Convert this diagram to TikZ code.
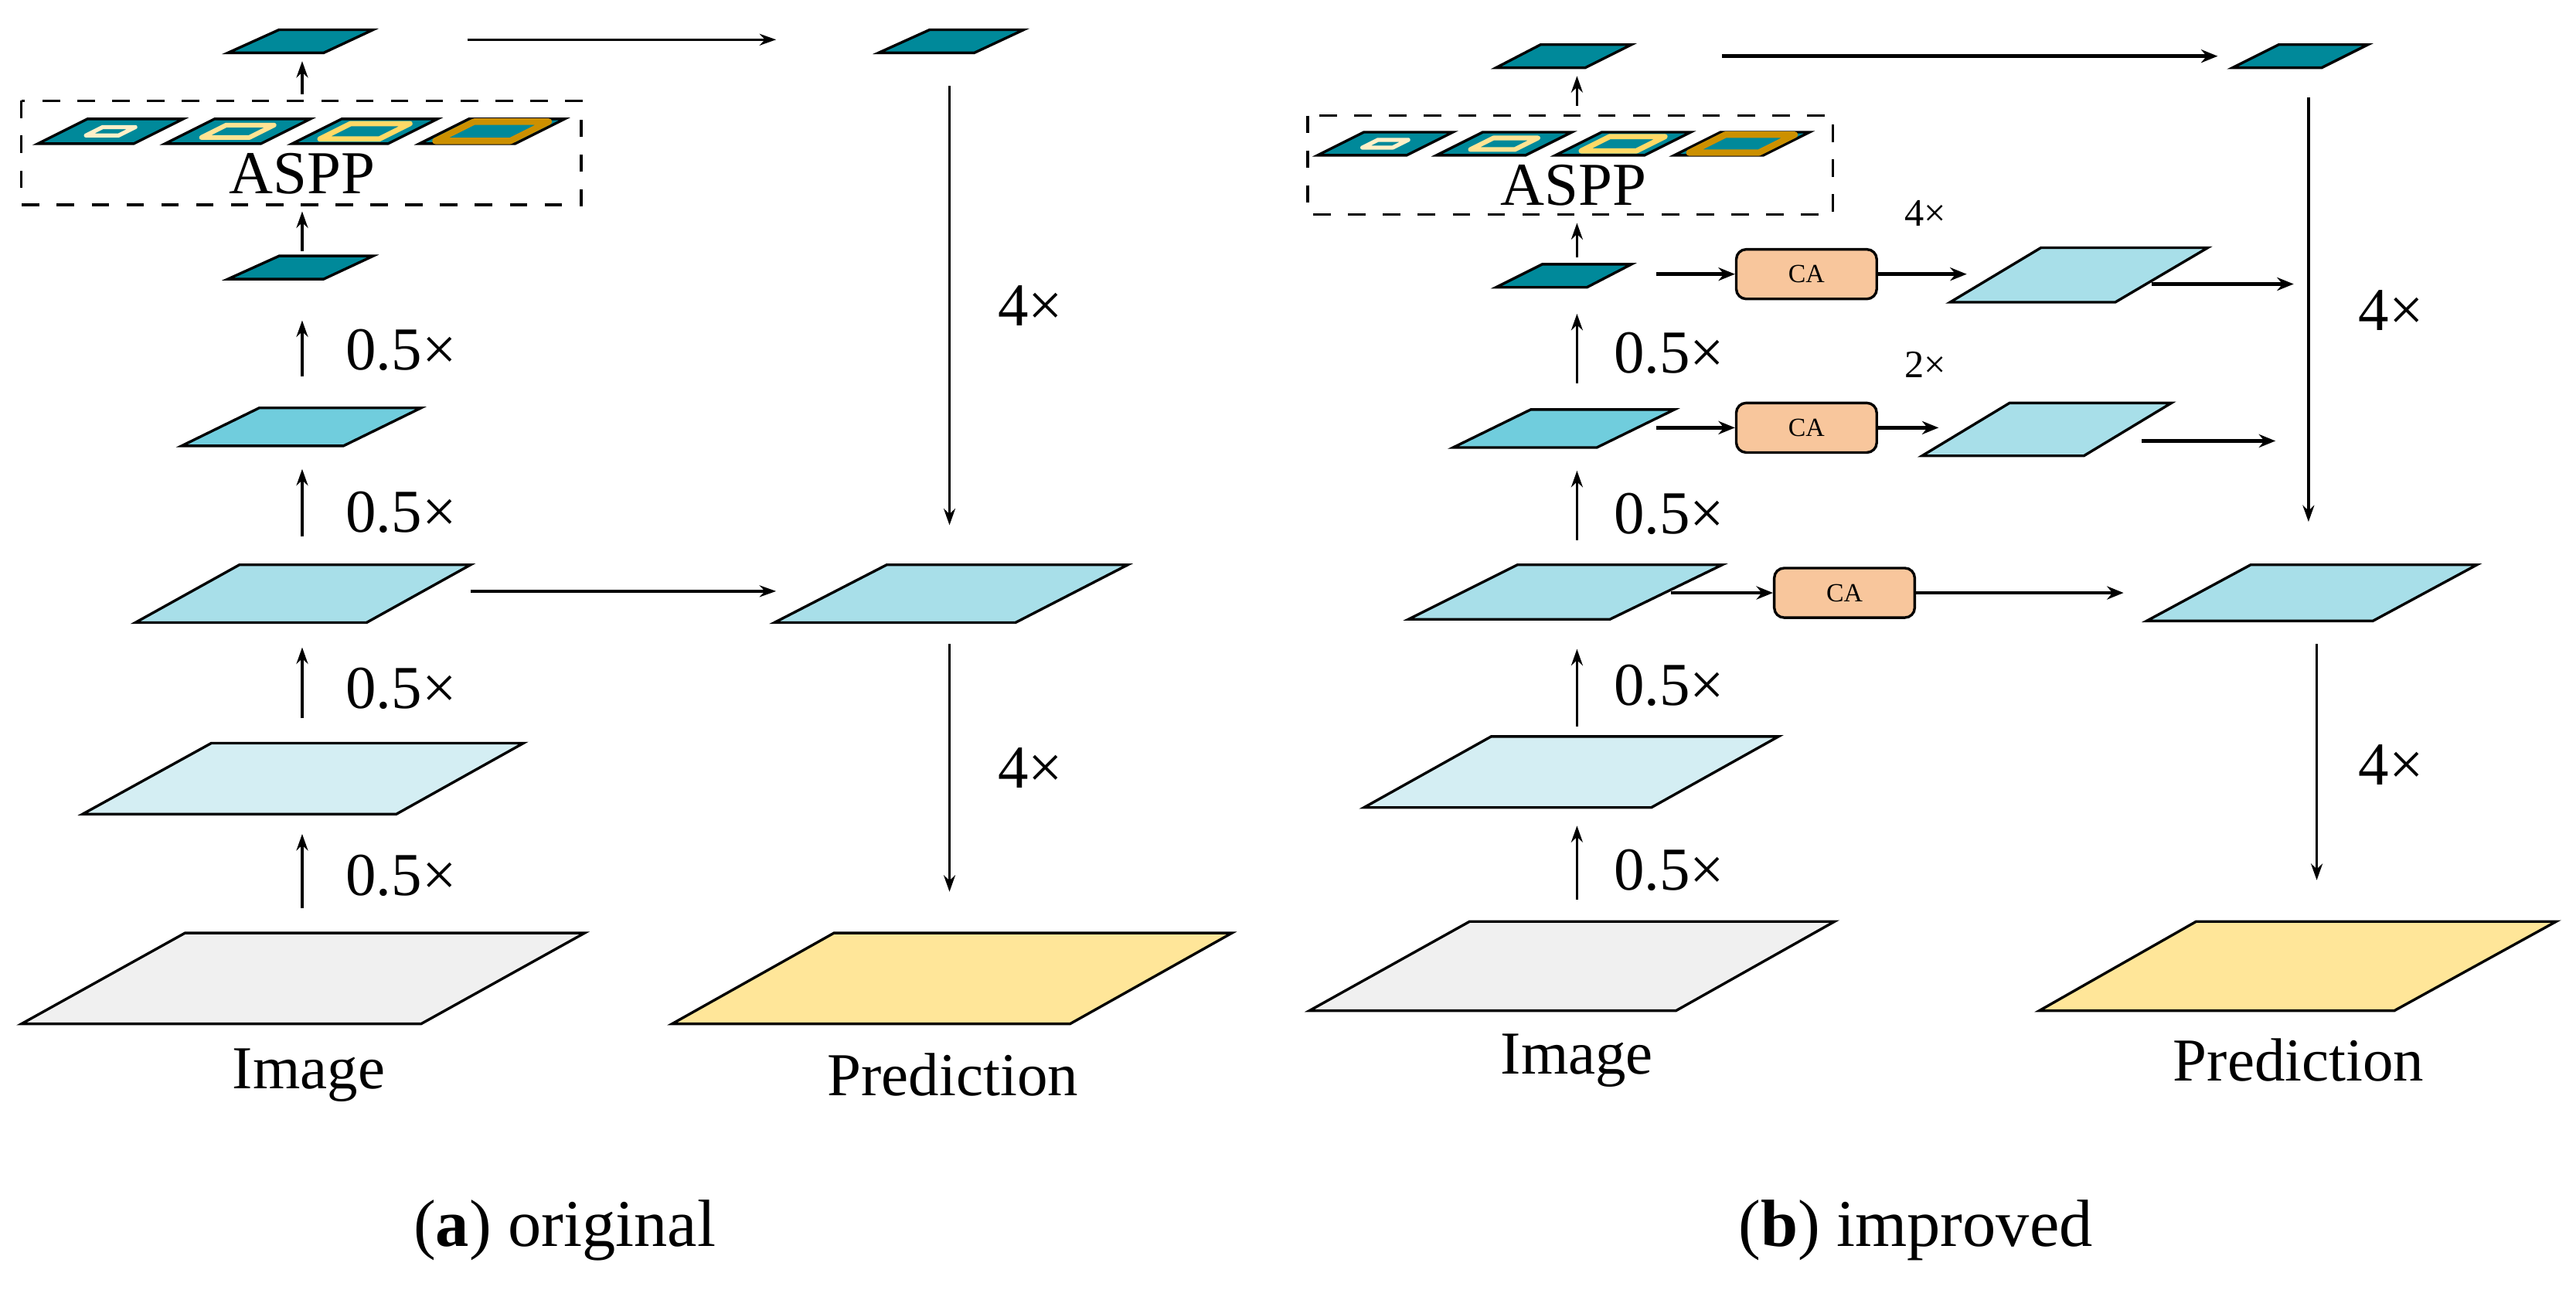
\documentclass[tikz,border=0pt]{standalone}
\usepackage{fontspec}
\setmainfont{Liberation Serif}
\usetikzlibrary{arrows.meta}
\definecolor{teal0}{HTML}{00899A}
\definecolor{cyanm}{HTML}{70CDDD}
\definecolor{bluel}{HTML}{A8DFE9}
\definecolor{bluell}{HTML}{D4EEF3}
\definecolor{grayl}{HTML}{F0F0F0}
\definecolor{pred}{HTML}{FFE699}
\definecolor{caf}{HTML}{F8C69C}
\definecolor{ringa}{HTML}{FFF0C8}
\definecolor{ringb}{HTML}{FFE393}
\definecolor{ringc}{HTML}{FFD966}
\definecolor{ringd}{HTML}{CC9000}
\tikzset{
  plate/.style={draw=black,line width=0.45pt,line join=miter},
  arr/.style={line width=0.45pt,-{Stealth[length=0.1cm,width=0.07cm]}},
  arrb/.style={line width=0.6pt,-{Stealth[length=0.1cm,width=0.08cm]}},
  big/.style={font=\fontsize{10.5}{12}\selectfont},
  small/.style={font=\fontsize{6.7}{8}\selectfont},
  ca/.style={draw=black,line width=0.45pt,fill=caf,rounded corners=0.06cm,minimum width=0.85cm,minimum height=0.3cm,inner sep=0pt,font=\fontsize{4.5}{5}\selectfont}
}
% #1 bl x, #2 br x, #3 tl x, #4 tr x, #5 top y, #6 bottom y, #7 colour
\newcommand\plt[7]{\filldraw[plate,fill=#7] (#1,#6)--(#2,#6)--(#4,#5)--(#3,#5)--cycle;}
% ASPP plate: #1 x, #2 y bottom-left, #3 ring scale, #4 ring colour, #5 size scale, #6 ring width
\newcommand\aplate[6]{%
\begin{scope}[shift={(#1,#2)},scale=#5]
\filldraw[plate,fill=teal0] (0,0)--(58,0)--(88,-15)--(30,-15)--cycle;
\draw[#4,line width=#6,line join=round,shift={(44,-7.5)},scale=#3,shift={(-44,7.5)}] (0,0)--(58,0)--(88,-15)--(30,-15)--cycle;
\end{scope}}
\begin{document}
\begin{tikzpicture}[x=0.01cm,y=-0.01cm]
\useasboundingbox (0,0) rectangle (1560,781);
% ================= (a)
\plt{138}{196}{169}{226}{18}{32}{teal0}
\plt{532}{590}{563}{620}{18}{32}{teal0}
\draw[dashed,line width=0.45pt] (13,61) rectangle (352,124);
\aplate{23}{87}{0.34}{ringa}{1}{0.7pt}
\aplate{100}{87}{0.5}{ringb}{1}{0.8pt}
\aplate{177}{87}{0.62}{ringc}{1}{0.9pt}
\aplate{254}{87}{0.78}{ringd}{1}{1.1pt}
\node[big] (asppa) at (183,105) {ASPP};
\plt{138}{196}{169}{226}{155}{169}{teal0}
\plt{110}{208}{157}{255}{247}{270}{cyanm}
\plt{82}{222}{145}{285}{342}{377}{bluel}
\plt{469}{615}{537}{683}{342}{377}{bluel}
\plt{50}{240}{128}{317}{450}{493}{bluell}
\plt{13}{255}{112}{354}{565}{620}{grayl}
\plt{407}{648}{505}{746}{565}{620}{pred}
\coordinate (a1s) at (183,57); \coordinate (a1e) at (183,37);
\coordinate (a2s) at (183,152); \coordinate (a2e) at (183,128);
\coordinate (a3s) at (183,228); \coordinate (a3e) at (183,194);
\coordinate (a4s) at (183,325); \coordinate (a4e) at (183,284);
\coordinate (a5s) at (183,435); \coordinate (a5e) at (183,392);
\coordinate (a6s) at (183,550); \coordinate (a6e) at (183,505);
\foreach \i in {1,...,6}{\draw[arr] (a\i s)--(a\i e);}
\node[big,anchor=west] (la3) at (197,212) {0.5×};
\node[big,anchor=west] (la4) at (197,310) {0.5×};
\node[big,anchor=west] (la5) at (197,417) {0.5×};
\node[big,anchor=west] (la6) at (197,530) {0.5×};
\coordinate (ah1s) at (283,24); \coordinate (ah1e) at (470,24);
\coordinate (ah2s) at (285,358); \coordinate (ah2e) at (470,358);
\draw[arr] (ah1s)--(ah1e); \draw[arr] (ah2s)--(ah2e);
\coordinate (av1s) at (575,52); \coordinate (av1e) at (575,318);
\coordinate (av2s) at (575,390); \coordinate (av2e) at (575,540);
\draw[arr] (av1s)--(av1e); \draw[arr] (av2s)--(av2e);
\node[big,anchor=west] (lav1) at (592,185) {4×};
\node[big,anchor=west] (lav2) at (592,465) {4×};
\node[big] (imga) at (187,651) {Image};
\node[big] (preda) at (577,651) {Prediction};
\node[big,font=\fontsize{11.5}{13}\selectfont] (capa) at (342,745) {(\textbf{a}) original};
% ================= (b)
\plt{906}{960}{933}{988}{27}{41}{teal0}
\plt{1352}{1406}{1380}{1434}{27}{41}{teal0}
\draw[dashed,line width=0.45pt] (792,70) rectangle (1110,130);
\aplate{798}{94}{0.34}{ringa}{0.93}{0.7pt}
\aplate{870}{94}{0.5}{ringb}{0.93}{0.8pt}
\aplate{942}{94}{0.62}{ringc}{0.93}{0.9pt}
\aplate{1014}{94}{0.78}{ringd}{0.93}{1.1pt}
\node[big] (asppb) at (953,112) {ASPP};
\plt{906}{961}{934}{988}{160}{174}{teal0}
\plt{880}{967}{927}{1014}{248}{271}{cyanm}
\plt{853}{975}{919}{1043}{342}{375}{bluel}
\plt{1300}{1437}{1363}{1500}{342}{376}{bluel}
\plt{826}{1000}{903}{1077}{446}{489}{bluell}
\plt{793}{1015}{890}{1111}{558}{612}{grayl}
\plt{1235}{1450}{1330}{1548}{558}{612}{pred}
\plt{1181}{1281}{1236}{1337}{150}{183}{bluel}
\plt{1164}{1262}{1217}{1315}{244}{276}{bluel}
\node[ca] (ca1) at (1094,166) {CA};
\node[ca] (ca2) at (1094,259) {CA};
\node[ca] (ca3) at (1117,359) {CA};
\coordinate (b1s) at (955,64); \coordinate (b1e) at (955,46);
\coordinate (b2s) at (955,156); \coordinate (b2e) at (955,135);
\coordinate (b3s) at (955,232); \coordinate (b3e) at (955,190);
\coordinate (b4s) at (955,327); \coordinate (b4e) at (955,285);
\coordinate (b5s) at (955,440); \coordinate (b5e) at (955,393);
\coordinate (b6s) at (955,545); \coordinate (b6e) at (955,500);
\foreach \i in {1,...,6}{\draw[arr] (b\i s)--(b\i e);}
\node[big,anchor=west] (lb3) at (965,214) {0.5×};
\node[big,anchor=west] (lb4) at (965,311) {0.5×};
\node[big,anchor=west] (lb5) at (965,415) {0.5×};
\node[big,anchor=west] (lb6) at (965,527) {0.5×};
\coordinate (bt1) at (1043,34); \coordinate (bt2) at (1343,34);
\draw[arrb] (bt1)--(bt2);
\coordinate (c1a) at (1003,166); \coordinate (c1b) at (1191,166);
\draw[arrb] (c1a)--(ca1); \draw[arrb] (ca1)--(c1b);
\coordinate (c1c) at (1303,172); \coordinate (c1d) at (1389,172);
\draw[arrb] (c1c)--(c1d);
\coordinate (c2a) at (1003,259); \coordinate (c2b) at (1174,259);
\draw[arrb] (c2a)--(ca2); \draw[arrb] (ca2)--(c2b);
\coordinate (c2c) at (1297,267); \coordinate (c2d) at (1378,267);
\draw[arrb] (c2c)--(c2d);
\coordinate (c3a) at (1012,359); \coordinate (c3b) at (1286,359);
\draw[arrb] (c3a)--(ca3); \draw[arrb] (ca3)--(c3b);
\node[small] (l4x) at (1166,129) {4×};
\node[small] (l2x) at (1166,221) {2×};
\coordinate (bv1s) at (1398,59); \coordinate (bv1e) at (1398,316);
\coordinate (bv2s) at (1403,390); \coordinate (bv2e) at (1403,533);
\draw[arr] (bv1s)--(bv1e); \draw[arr] (bv2s)--(bv2e);
\node[big,anchor=west] (lbv1) at (1416,188) {4×};
\node[big,anchor=west] (lbv2) at (1416,463) {4×};
\node[big] (imgb) at (955,642) {Image};
\node[big] (predb) at (1392,642) {Prediction};
\node[big,font=\fontsize{11.5}{13}\selectfont] (capb) at (1160,745) {(\textbf{b}) improved};
\end{tikzpicture}
\end{document}
